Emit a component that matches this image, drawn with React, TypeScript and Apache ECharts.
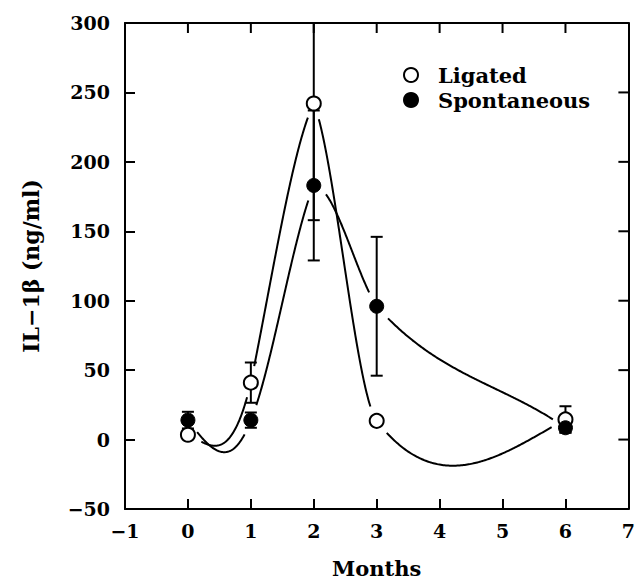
import React, { useEffect, useRef } from "react";
import * as echarts from "echarts";

// ---- data ----
const months = [0, 1, 2, 3, 6];
const ligated = [3.5, 41, 242, 13.5, 14.5];
const ligatedSE = [2, 14.5, 84, 2, 9.5];
const spontaneous = [14, 14, 183, 96, 8.5];
const spontaneousSE = [6, 5.5, 54, 50, 3.5];
// slopes (ng/ml per month) of the drawn fitted curve at the start / end of each segment
const ligatedSlopeOut = [-20, 220, -110, -59];
const ligatedSlopeIn = [190, 90, -60, 25];
const spontaneousSlopeOut = [-60, 110, 0, -51];
const spontaneousSlopeIn = [120, 110, -70, -32];
// axes
const xRange = [-1, 7];
const yRange = [-50, 300];
const xStep = 1;
const yStep = 50;
const xTicks = [0, 1, 2, 3, 4, 5, 6];
const yTicks = [0, 50, 100, 150, 200, 250];

const FONT = "DejaVu Serif";
const BLACK = "#000";
const GAP = 15;
const TICK = 10;

const minusFmt = (v: number) => String(v).replace("-", "\u2212");

function errorSeries(name: string, vals: number[], se: number[]) {
  return {
    type: "custom",
    name: name + " SE",
    clip: true,
    silent: true,
    z: 3,
    data: months.map((m, i) => [m, vals[i] - se[i], vals[i] + se[i]]),
    encode: { x: 0, y: [1, 2] },
    renderItem: (_p: any, api: any) => {
      const x = api.value(0);
      const lo = api.coord([x, api.value(1)]);
      const hi = api.coord([x, api.value(2)]);
      const hw = 6;
      const st = { stroke: BLACK, lineWidth: 2 };
      return {
        type: "group",
        children: [
          { type: "line", shape: { x1: lo[0], y1: lo[1], x2: hi[0], y2: hi[1] }, style: st },
          { type: "line", shape: { x1: lo[0] - hw, y1: lo[1], x2: lo[0] + hw, y2: lo[1] }, style: st },
          { type: "line", shape: { x1: hi[0] - hw, y1: hi[1], x2: hi[0] + hw, y2: hi[1] }, style: st },
        ],
      };
    },
  };
}

function curveSeries(name: string, vals: number[], sOut: number[], sIn: number[]) {
  const data = sOut.map((_, i) => [months[i], vals[i], months[i + 1], vals[i + 1], sOut[i], sIn[i]]);
  return {
    type: "custom",
    name: name + " fit",
    clip: true,
    silent: true,
    z: 2,
    data,
    encode: { x: [0, 2], y: [1, 3] },
    renderItem: (_p: any, api: any) => {
      const x0 = api.value(0), y0 = api.value(1), x1 = api.value(2), y1 = api.value(3);
      const m0 = api.value(4), m1 = api.value(5);
      const h = x1 - x0;
      const p0 = api.coord([x0, y0]);
      const p1 = api.coord([x1, y1]);
      const pts: number[][] = [];
      const N = 150;
      for (let k = 0; k <= N; k++) {
        const t = k / N, t2 = t * t, t3 = t2 * t;
        const y =
          (2 * t3 - 3 * t2 + 1) * y0 +
          (t3 - 2 * t2 + t) * h * m0 +
          (-2 * t3 + 3 * t2) * y1 +
          (t3 - t2) * h * m1;
        const p = api.coord([x0 + t * h, y]);
        if (Math.hypot(p[0] - p0[0], p[1] - p0[1]) > GAP && Math.hypot(p[0] - p1[0], p[1] - p1[1]) > GAP) pts.push(p);
      }
      return {
        type: "polyline",
        shape: { points: pts },
        style: { stroke: BLACK, lineWidth: 2, fill: null },
      };
    },
  };
}

// inward ticks on the top and right frame edges, placed through the axes' scales
function frameTickSeries() {
  const data = [
    ...xTicks.map((v) => [0, v]),
    ...yTicks.map((v) => [1, v]),
  ];
  return {
    type: "custom",
    name: "frame ticks",
    silent: true,
    clip: false,
    z: 4,
    data,
    renderItem: (_p: any, api: any) => {
      const kind = api.value(0);
      const v = api.value(1);
      const st = { stroke: BLACK, lineWidth: 2 };
      if (kind === 0) {
        const p = api.coord([v, yRange[1]]);
        return { type: "line", shape: { x1: p[0], y1: p[1], x2: p[0], y2: p[1] + TICK }, style: st };
      }
      const p = api.coord([xRange[1], v]);
      return { type: "line", shape: { x1: p[0], y1: p[1], x2: p[0] - TICK, y2: p[1] }, style: st };
    },
  };
}

export default function App() {
  const ref = useRef<HTMLDivElement>(null);
  useEffect(() => {
    document.body.style.margin = "0";
    document.documentElement.style.overflow = "hidden";
    const chart = echarts.init(ref.current!, undefined, { renderer: "svg" });
    const tickStyle = () => ({ show: true, inside: true, length: TICK, lineStyle: { color: BLACK, width: 2 } });
    const lineStyle = () => ({ show: true, onZero: false, lineStyle: { color: BLACK, width: 2 } });
    const labelStyle = { fontFamily: FONT, fontWeight: "bold", fontSize: 19, color: BLACK };
    chart.setOption({
      animation: false,
      backgroundColor: "#fff",
      grid: { left: 125, top: 23, width: 506, height: 494, containLabel: false },
      legend: {
        orient: "vertical",
        left: 403,
        top: 64,
        padding: 0,
        itemGap: 3,
        itemWidth: 14,
        itemHeight: 14,
        data: [
          { name: "Ligated", icon: "circle" },
          { name: "Spontaneous", icon: "circle" },
        ],
        textStyle: {
          fontFamily: FONT,
          fontWeight: "bold",
          fontSize: 21,
          color: BLACK,
          lineHeight: 22,
          padding: [0, 0, 0, 15],
        },
      },
      xAxis: [
        {
          type: "value",
          gridIndex: 0,
          position: "bottom",
          min: xRange[0],
          max: xRange[1],
          interval: xStep,
          name: "Months",
          nameLocation: "middle",
          nameGap: 49,
          nameTextStyle: { fontFamily: FONT, fontWeight: "bold", fontSize: 21, color: BLACK },
          axisLine: lineStyle(),
          axisTick: tickStyle(),
          axisLabel: { ...labelStyle, margin: 12, formatter: minusFmt },
          splitLine: { show: false },
        },
        {
          type: "value",
          gridIndex: 0,
          position: "top",
          min: xRange[0],
          max: xRange[1],
          interval: xStep,
          axisLine: lineStyle(),
          axisTick: { show: false },
          axisLabel: { show: false },
          splitLine: { show: false },
        },
      ],
      yAxis: [
        {
          type: "value",
          gridIndex: 0,
          position: "left",
          min: yRange[0],
          max: yRange[1],
          interval: yStep,
          name: "IL\u22121\u03b2 (ng/ml)",
          nameLocation: "middle",
          nameGap: 83,
          nameTextStyle: { fontFamily: FONT, fontWeight: "bold", fontSize: 22, color: BLACK },
          axisLine: lineStyle(),
          axisTick: tickStyle(),
          axisLabel: { ...labelStyle, margin: 15, formatter: minusFmt },
          splitLine: { show: false },
        },
        {
          type: "value",
          gridIndex: 0,
          position: "right",
          min: yRange[0],
          max: yRange[1],
          interval: yStep,
          axisLine: lineStyle(),
          axisTick: { show: false },
          axisLabel: { show: false },
          splitLine: { show: false },
        },
      ],
      series: [
        frameTickSeries(),
        curveSeries("Ligated", ligated, ligatedSlopeOut, ligatedSlopeIn),
        curveSeries("Spontaneous", spontaneous, spontaneousSlopeOut, spontaneousSlopeIn),
        errorSeries("Ligated", ligated, ligatedSE),
        errorSeries("Spontaneous", spontaneous, spontaneousSE),
        {
          type: "scatter",
          name: "Ligated",
          data: months.map((m, i) => [m, ligated[i]]),
          symbol: "circle",
          symbolSize: 14,
          itemStyle: { color: "#fff", borderColor: BLACK, borderWidth: 2, opacity: 1 },
          z: 5,
        },
        {
          type: "scatter",
          name: "Spontaneous",
          data: months.map((m, i) => [m, spontaneous[i]]),
          symbol: "circle",
          symbolSize: 14,
          itemStyle: { color: BLACK, borderColor: BLACK, borderWidth: 1, opacity: 1 },
          z: 6,
        },
      ],
    });
    return () => chart.dispose();
  }, []);
  return <div ref={ref} style={{ width: 638, height: 584 }} />;
}
